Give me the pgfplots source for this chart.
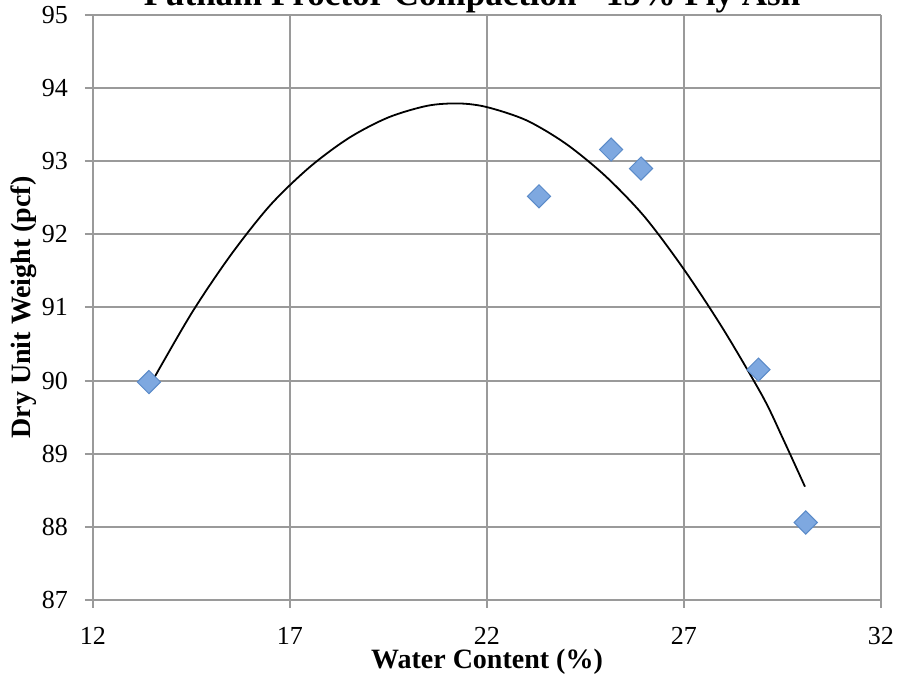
\documentclass[border=0pt]{standalone}
\usepackage{pgfplots}
\pgfplotsset{compat=1.18}
\usepackage{fontspec}
\setmainfont{Liberation Serif}
\definecolor{gridgray}{HTML}{9A9A9A}
\definecolor{mkfill}{HTML}{7EA8E0}
\definecolor{mkdraw}{HTML}{5A8AC8}
\begin{document}
\begin{tikzpicture}
\begin{axis}[
  scale only axis,
  width=394pt, height=292.5pt,
  xmin=12, xmax=32, ymin=87, ymax=95,
  xtick={12,17,22,27,32},
  ytick={87,88,89,90,91,92,93,94,95},
  grid=major,
  major grid style={gridgray, line width=1pt},
  axis line style={gridgray, line width=1pt},
  tick style={gridgray, line width=1pt},
  tick align=outside,
  major tick length=4pt,
  axis x line*=bottom, axis y line*=left,
  xticklabel={\fontsize{13}{15}\selectfont\pgfmathprintnumber[assume math mode=true]{\tick}},
  yticklabel={\fontsize{13}{15}\selectfont\pgfmathprintnumber[assume math mode=true]{\tick}},
  tick label style={text=black},
  xticklabel style={yshift=-6pt},
  yticklabel style={xshift=-5pt},
  xlabel={\textbf{Water Content (\%)}},
  ylabel={\textbf{Dry Unit Weight (pcf)}},
  label style={font=\fontsize{14}{16}\selectfont},
  xlabel style={at={(rel axis cs:0.5,0)}, anchor=center, yshift=-31pt},
  ylabel style={at={(rel axis cs:0,0.5)}, anchor=center, yshift=34.5pt},
  clip=false,
]
\addplot[black, line width=0.9pt, smooth] coordinates {
(13.45,89.94) (14.5,90.92) (15.5,91.72) (16.5,92.40) (17.5,92.92)
(18.5,93.32) (19.5,93.60) (20.5,93.76) (21.3,93.79) (22.0,93.74)
(23.0,93.56) (24.0,93.24) (25.0,92.80) (26.0,92.24) (27.0,91.52)
(28.0,90.70) (29.0,89.78) (29.5,89.22) (30.07,88.55)
};
\addplot[only marks, mark=square*, mark size=4.1pt,
  mark options={rotate=45, fill=mkfill, draw=mkdraw, line width=0.5pt}] coordinates {
(13.42,89.98) (23.32,92.52) (25.15,93.16) (25.91,92.90) (28.89,90.15) (30.09,88.06)
};
\node[anchor=base, font=\fontsize{17.5}{20}\selectfont\bfseries] at (rel axis cs:0.481,1) [yshift=4.5pt] {Putnam Proctor Compaction - 15\% Fly Ash};
\end{axis}
\pgfresetboundingbox
\path[use as bounding box] ([xshift=-46.5pt, yshift=-42.5pt]current axis.south west) rectangle ([xshift=9.5pt, yshift=7.5pt]current axis.north east);
\end{tikzpicture}
\end{document}
